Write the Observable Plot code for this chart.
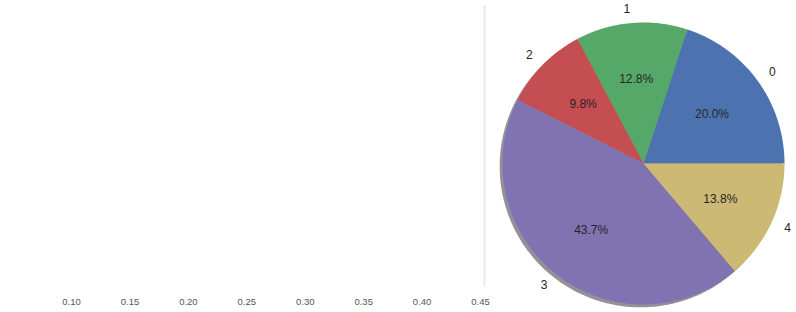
<!DOCTYPE html>
<html><head><meta charset="utf-8">
<script src="https://cdn.jsdelivr.net/npm/d3@7"></script>
<script src="https://cdn.jsdelivr.net/npm/@observablehq/plot@0.6"></script>
<style>
html,body{margin:0;padding:0;background:#fff;}
#wrap{position:relative;width:796px;height:312px;overflow:hidden;background:#fff;}
#left{position:absolute;left:0;top:0;}
#right{position:absolute;left:490px;top:0;}
</style></head><body><div id="wrap"><div id="left"></div><div id="right"></div></div>
<script>
const sliceLabels = ["0", "1", "2", "3", "4"];
const slicePercents = [20.0, 12.8, 9.8, 43.7, 13.8];
const sliceColors = ["#4C72B0", "#55A868", "#C44E52", "#8172B2", "#CCB974"];
const xTicks = [0.10, 0.15, 0.20, 0.25, 0.30, 0.35, 0.40, 0.45];
const xDomain = [0.0392, 0.4534];

// Left (empty) axes
const left = Plot.plot({
  width: 490, height: 312,
  marginLeft: 0, marginRight: 6, marginTop: 5, marginBottom: 25,
  style: {fontFamily: "Liberation Sans, Arial, sans-serif", fontSize: "9.5px", color: "#555", background: "transparent"},
  x: {domain: xDomain, ticks: xTicks, tickFormat: d3.format(".2f"), tickSize: 0, tickPadding: 11, label: null},
  y: {axis: null, domain: [0, 1]},
  marks: [
    Plot.ruleX([xDomain[1]], {stroke: "#e9e9e9", strokeWidth: 2})
  ]
});
document.getElementById("left").appendChild(left);

// Pie
const total = d3.sum(slicePercents);
const wedgePts = [], shadowPts = [], labelRows = [];
let acc = 0;
const sh = -0.02;
slicePercents.forEach((v, i) => {
  const a0 = acc / total * 2 * Math.PI;
  const a1 = (acc + v) / total * 2 * Math.PI;
  acc += v;
  const n = Math.max(4, Math.ceil((a1 - a0) / (Math.PI / 180)));
  const c = d3.rgb(sliceColors[i]);
  const shadowColor = d3.rgb(c.r * 0.3, c.g * 0.3, c.b * 0.3).formatHex();
  wedgePts.push({k: i, px: 0, py: 0, col: sliceColors[i]});
  shadowPts.push({k: i, px: sh, py: sh, col: shadowColor});
  for (let j = 0; j <= n; j++) {
    const a = a0 + (a1 - a0) * j / n;
    wedgePts.push({k: i, px: Math.cos(a), py: Math.sin(a), col: sliceColors[i]});
    shadowPts.push({k: i, px: Math.cos(a) + sh, py: Math.sin(a) + sh, col: shadowColor});
  }
  const am = (a0 + a1) / 2;
  labelRows.push({
    label: sliceLabels[i],
    pct: slicePercents[i].toFixed(1) + "%",
    lx: 1.1 * Math.cos(am), ly: 1.1 * Math.sin(am),
    tx: 0.6 * Math.cos(am), ty: 0.6 * Math.sin(am)
  });
});

const R = 141;
const right = Plot.plot({
  width: 306, height: 312,
  marginLeft: 0, marginRight: 0, marginTop: 0, marginBottom: 0,
  style: {fontFamily: "Liberation Sans, Arial, sans-serif", fontSize: "12px", background: "transparent", overflow: "visible"},
  x: {axis: null, domain: [-153 / R, 153 / R]},
  y: {axis: null, domain: [-149 / R, 163 / R]},
  color: {type: "identity"},
  marks: [
    Plot.line(shadowPts, {x: "px", y: "py", z: "k", fill: "col", stroke: "none", fillOpacity: 0.5, curve: "linear-closed"}),
    Plot.line(wedgePts, {x: "px", y: "py", z: "k", fill: "col", stroke: "none", curve: "linear-closed"}),
    Plot.text(labelRows, {x: "tx", y: "ty", text: "pct", fill: "#262626", textAnchor: "middle"}),
    Plot.text(labelRows.filter(d => d.lx >= 0), {x: "lx", y: "ly", text: "label", fill: "#262626", textAnchor: "start"}),
    Plot.text(labelRows.filter(d => d.lx < 0), {x: "lx", y: "ly", text: "label", fill: "#262626", textAnchor: "end"})
  ]
});
document.getElementById("right").appendChild(right);
</script></body></html>
